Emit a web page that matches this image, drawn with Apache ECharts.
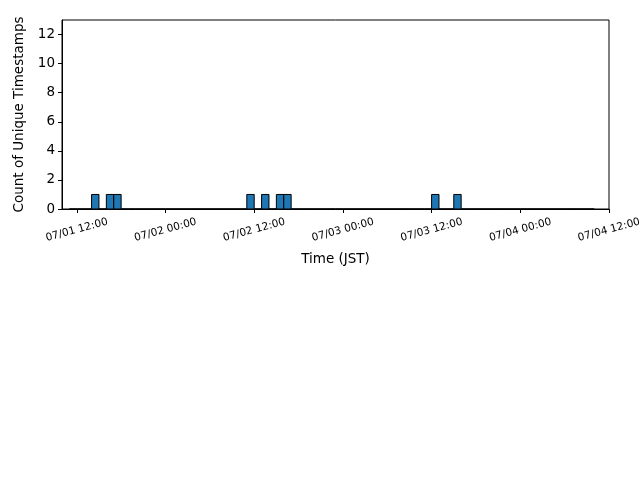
<!DOCTYPE html>
<html>
<head>
<meta charset="utf-8">
<script src="https://cdn.jsdelivr.net/npm/echarts@6/dist/echarts.min.js"></script>
<style>
    html, body { margin: 0; padding: 0; background: #fff; }
    #chart { width: 640px; height: 480px; }
</style>
</head>
<body>
<div id="chart"></div>
<script>
// hours counted from 07/01 00:00 JST, hourly bins
const binStart = 11;
const counts = [
    0, 0, 0, 1, 0, 1, 1, 0, 0, 0, 0, 0, 0,          // 07/01 11:00 - 23:00
    0, 0, 0, 0, 0, 0, 0, 0, 0, 0, 0, 1, 0, 1, 0, 1, 1, 0, 0, 0, 0, 0, 0, 0, // 07/02
    0, 0, 0, 0, 0, 0, 0, 0, 0, 0, 0, 0, 1, 0, 0, 1, 0, 0, 0, 0, 0, 0, 0, 0, // 07/03
    0, 0, 0, 0, 0, 0, 0, 0, 0, 0                    // 07/04 00:00 - 09:00
];
const tickHours = [12, 24, 36, 48, 60, 72, 84];
const tickLabels = ['07/01 12:00', '07/02 00:00', '07/02 12:00', '07/03 00:00', '07/03 12:00', '07/04 00:00', '07/04 12:00'];
const yTicks = [0, 2, 4, 6, 8, 10, 12];

let bins = counts.map(function(c, i) {
    return [binStart + i, binStart + i + 1, c];
});

let chart = echarts.init(document.getElementById('chart'));
chart.setOption({
    animation: false,
    textStyle: { fontFamily: 'DejaVu Sans' },
    grid: {
        left: 62,
        right: 31,
        top: 20,
        bottom: 271,
        outerBoundsMode: 'none',
        containLabel: false,
        show: true,
        borderColor: '#000',
        borderWidth: 1
    },
    xAxis: {
        type: 'value',
        min: 10,
        max: 84,
        name: 'Time (JST)',
        nameLocation: 'middle',
        nameGap: 43,
        nameTextStyle: { fontSize: 13.5, color: '#000' },
        splitLine: { show: false },
        axisLine: { show: true, onZero: false, lineStyle: { color: '#000' } },
        axisTick: { show: true, length: 4, customValues: tickHours, lineStyle: { color: '#000' } },
        axisLabel: {
            customValues: tickHours,
            rotate: 15,
            align: 'center',
            verticalAlign: 'middle',
            margin: 21,
            fontSize: 10.5,
            color: '#000',
            formatter: function(v) {
                return tickLabels[tickHours.indexOf(v)];
            }
        }
    },
    yAxis: {
        type: 'value',
        min: 0,
        max: 13,
        name: 'Count of Unique Timestamps',
        nameLocation: 'middle',
        nameGap: 30,
        nameTextStyle: { fontSize: 13.5, color: '#000' },
        splitLine: { show: false },
        axisLine: { show: true, lineStyle: { color: '#000' } },
        axisTick: { show: true, length: 4, customValues: yTicks, lineStyle: { color: '#000' } },
        axisLabel: { customValues: yTicks, fontSize: 13.5, color: '#000', margin: 7 }
    },
    series: [{
        type: 'custom',
        data: bins,
        encode: { x: [0, 1], y: 2 },
        renderItem: function(params, api) {
            let p0 = api.coord([api.value(0), 0]);
            let p1 = api.coord([api.value(1), api.value(2)]);
            return {
                type: 'rect',
                shape: { x: p0[0], y: p1[1], width: p1[0] - p0[0], height: p0[1] - p1[1] },
                style: { fill: '#1f77b4', stroke: '#000', lineWidth: 1 }
            };
        }
    }]
});
</script>
</body>
</html>
